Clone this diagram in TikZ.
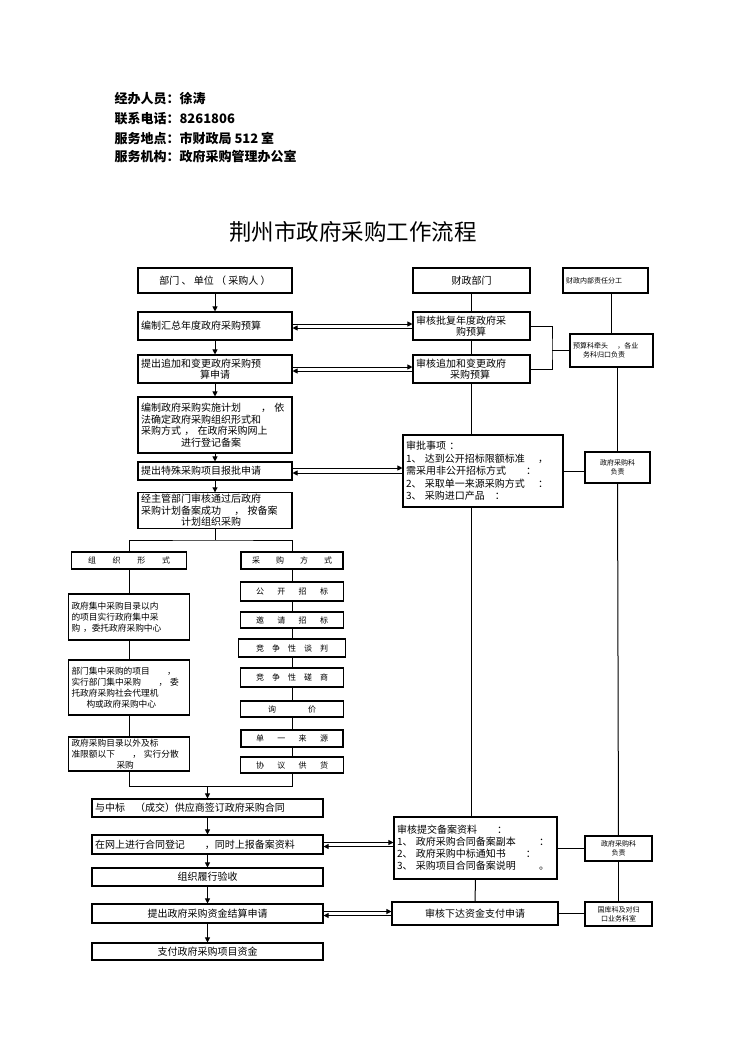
\documentclass[tikz,border=0pt]{standalone}
\usepackage{fontspec}
\setmainfont{Noto Sans CJK SC}
\usetikzlibrary{arrows.meta}
\newcommand{\spread}[2]{\makebox[#1][s]{#2}}

\tikzset{
  box/.style={draw, line width=1.1pt, inner xsep=3pt, inner ysep=1.5pt, font=\fontsize{10}{11.5}\selectfont},
  lbox/.style={box, align=left},
  smallbox/.style={box, align=center, font=\fontsize{7}{9}\selectfont},
  waybox/.style={box, font=\fontsize{8}{10}\selectfont},
  orgbox/.style={lbox, text width=115pt, font=\fontsize{8.7}{11}\selectfont},
  info/.style={anchor=west, font=\fontsize{13}{15}\selectfont\bfseries},
  link/.style={line width=1pt},
  flow/.style={link, -{Triangle[length=5pt,width=5pt]}},
}

\begin{document}
\begin{tikzpicture}[x=1pt,y=-1pt]
\path[use as bounding box, fill=white] (0,0) rectangle (744,1053);

\node[info] (jingban) at (111,99) {经办人员：徐涛};
\node[info] (dianhua) at (111,119) {联系电话：8261806};
\node[info] (didian) at (111,138) {服务地点：市财政局 512 室};
\node[info] (jigou) at (111,157) {服务机构：政府采购管理办公室};
\node[font=\fontsize{22.5}{26}\selectfont] (title) at (353,232) {荆州市政府采购工作流程};

% purchaser side
\node[box, minimum width=154pt, minimum height=25pt] (bumen) at (215,280.5) {部门\ 、\ 单位\ （\ 采购人\ ）};
\node[lbox, text width=148pt, minimum height=28pt] (bianzhi) at (215,326) {编制汇总年度政府采购预算};
\node[lbox, text width=148pt, minimum height=28pt] (zhuijia) at (215,369) {提出追加和变更政府采购预\\\hspace*{59pt}算申请};
\node[lbox, text width=148pt, minimum height=56pt] (jihua) at (215,425) {编制政府采购实施计划\qquad，\ 依\\法确定政府采购组织形式和\\采购方式\ ，\ 在政府采购网上\\\hspace*{40pt}进行登记备案};
\node[lbox, text width=148pt, minimum height=18pt] (teshu) at (215,471) {提出特殊采购项目报批申请};
\node[lbox, text width=148pt, minimum height=35pt] (jingzhu) at (215,510.5) {经主管部门审核通过后政府\\采购计划备案成功\quad\ ，\ 按备案\\\hspace*{40pt}计划组织采购};

% finance side
\node[box, minimum width=117pt, minimum height=25pt] (caizheng) at (471.5,280.5) {财政部门};
\node[lbox, text width=111pt, minimum height=28pt] (pifu) at (471.5,326) {审核批复年度政府采\\\hspace*{40pt}购预算};
\node[lbox, text width=111pt, minimum height=28pt] (shenzhui) at (471.5,369) {审核追加和变更政府\\\hspace*{34pt}采购预算};
\node[lbox, text width=154pt, minimum height=72pt, font=\fontsize{10}{12.5}\selectfont] (shenpi) at (483,471) {审批事项\ ：\\1、\ 达到公开招标限额标准\quad\ ，\\需采用非公开招标方式\qquad：\\2、\ 采取单一来源采购方式\quad\ ：\\3、\ 采购进口产品\quad：};
\node[lbox, text width=157pt, minimum height=62pt, font=\fontsize{10}{12}\selectfont] (beian) at (475.5,848) {审核提交备案资料\qquad：\\1、\ 政府采购合同备案副本\qquad\ ：\\2、\ 政府采购中标通知书\qquad：\\3、\ 采购项目合同备案说明\qquad\ 。};
\node[box, minimum width=166pt, minimum height=23pt] (xiada) at (475,913.5) {审核下达资金支付申请};

\node[smallbox, align=left, text width=79pt, minimum height=25pt] (fengong) at (605.5,280.5) {财政内部责任分工};
\node[smallbox, align=left, text width=77pt, minimum height=33pt] (yusuan) at (611.5,350.5) {预算科牵头\quad\ ，各业\\\hspace*{10pt}务科归口负责};
\node[smallbox, minimum width=65pt, minimum height=31pt] (caigouke) at (617.5,467.5) {政府采购科\\负责};
\node[smallbox, minimum width=67pt, minimum height=25pt] (caigoukeb) at (618.5,848.5) {政府采购科\\负责};
\node[smallbox, minimum width=67pt, minimum height=24pt] (guoku) at (618.5,914) {国库科及对归\\口业务科室};

% organisation forms
\node[waybox, minimum width=115pt, minimum height=17pt] (zuzhi) at (129,560.5) {\spread{82pt}{组\hfil 织\hfil 形\hfil 式}};
\node[orgbox, minimum height=46pt] (jizhong) at (129,617) {政府集中采购目录以内\\的项目实行政府集中采\\购\ ，委托政府采购中心};
\node[orgbox, minimum height=55pt] (bumenjz) at (129,687.5) {部门集中采购的项目\qquad，\\实行部门集中采购\qquad，\ 委\\托政府采购社会代理机\\\hspace*{15pt}构或政府采购中心};
\node[orgbox, minimum height=34pt] (fensan) at (129,754) {政府采购目录以外及标\\准限额以下\qquad，\ 实行分散\\\hspace*{45pt}采购};

% purchasing methods
\node[waybox, minimum width=102pt, minimum height=17pt] (fangshi) at (292,560.5) {\spread{80pt}{采\hfil 购\hfil 方\hfil 式}};
\node[waybox, minimum width=103pt, minimum height=19pt] (gongkai) at (292,591.5) {\spread{72pt}{公\hfil 开\hfil 招\hfil 标}};
\node[waybox, minimum width=103pt, minimum height=16pt] (yaoqing) at (292,620) {\spread{72pt}{邀\hfil 请\hfil 招\hfil 标}};
\node[waybox, minimum width=107pt, minimum height=18pt] (tanpan) at (292,648) {\spread{72pt}{竞\hfil 争\hfil 性\hfil 谈\hfil 判}};
\node[waybox, minimum width=103pt, minimum height=19pt] (cuoshang) at (292,677.5) {\spread{72pt}{竞\hfil 争\hfil 性\hfil 磋\hfil 商}};
\node[waybox, minimum width=103pt, minimum height=16pt] (xunjia) at (292,709) {\spread{48pt}{询\hfil 价}};
\node[waybox, minimum width=102pt, minimum height=17pt] (danyi) at (292,738.5) {\spread{72pt}{单\hfil 一\hfil 来\hfil 源}};
\node[waybox, minimum width=103pt, minimum height=16pt] (xieyi) at (292,765) {\spread{72pt}{协\hfil 议\hfil 供\hfil 货}};

% contract and payment
\node[lbox, text width=225pt, minimum height=18pt] (hetong) at (207.5,808) {与中标\quad（成交）供应商签订政府采购合同};
\node[lbox, text width=225pt, minimum height=19pt] (dengji) at (207.5,844.5) {在网上进行合同登记\qquad，同时上报备案资料};
\node[box, minimum width=231pt, minimum height=18pt] (yanshou) at (207.5,877) {组织履行验收};
\node[box, minimum width=231pt, minimum height=19pt] (jiesuan) at (207.5,913.5) {提出政府采购资金结算申请};
\node[box, minimum width=231pt, minimum height=17pt] (zhifu) at (207.5,951.5) {支付政府采购项目资金};

\coordinate (fork) at (215,540);
\coordinate (merge) at (207.5,786);
\coordinate (brk) at (552,350.5);

\draw[flow] (bumen) -- (bianzhi);
\draw[flow] (bianzhi) -- (zhuijia);
\draw[flow] (zhuijia) -- (jihua);
\draw[flow] (jihua) -- (teshu);
\draw[flow] (teshu) -- (jingzhu);
\draw[link] (jingzhu) -- (fork);
\draw[link] (zuzhi.north) |- (fork) -| (fangshi.north);

\draw[link] (zuzhi) -- (jizhong);
\draw[link] (jizhong) -- (bumenjz);
\draw[link] (bumenjz) -- (fensan);
\draw[link] (fangshi) -- (gongkai);
\draw[link] (gongkai) -- (yaoqing);
\draw[link] (yaoqing) -- (tanpan);
\draw[link] (tanpan) -- (cuoshang);
\draw[link] (cuoshang) -- (xunjia);
\draw[link] (xunjia) -- (danyi);
\draw[link] (danyi) -- (xieyi);
\draw[link] (fensan.south) |- (merge) -| (xieyi.south);
\draw[flow] (merge) -- (hetong);

\draw[flow] (hetong) -- (dengji);
\draw[flow] (dengji) -- (yanshou);
\draw[flow] (yanshou) -- (jiesuan);
\draw[flow] (jiesuan) -- (zhifu);

\draw[link] (caizheng) -- (pifu);
\draw[link] (pifu) -- (shenzhui);
\draw[link] (shenzhui.south) -- (shenzhui.south |- shenpi.north);
\draw[link] (shenzhui.south |- shenpi.south) -- (shenzhui.south |- beian.north);
\draw[link] (beian.south) -- (xiada.north);

\draw[link] (pifu.east) -| (brk) |- (shenzhui.east);
\draw[link] (brk) -- (yusuan.west);
\draw[link] (shenpi.east) -- (shenpi.east -| caigouke.west);
\draw[link] (beian.east) -- (beian.east -| caigoukeb.west);
\draw[link] (xiada.east) -- (xiada.east -| guoku.west);
\draw[link] (fengong.south -| yusuan) -- (yusuan.north);
\draw[link] (yusuan.south -| caigouke) -- (caigouke.north);
\draw[link] (caigouke) -- (caigoukeb);
\draw[link] (caigoukeb) -- (guoku);

\draw[flow] ([yshift=2pt]bianzhi.east) -- ([yshift=2pt]bianzhi.east -| pifu.west);
\draw[flow] ([yshift=-2pt]bianzhi.east -| pifu.west) -- ([yshift=-2pt]bianzhi.east);
\draw[flow] ([yshift=2pt]zhuijia.east) -- ([yshift=2pt]zhuijia.east -| shenzhui.west);
\draw[flow] ([yshift=-2pt]zhuijia.east -| shenzhui.west) -- ([yshift=-2pt]zhuijia.east);
\draw[flow] ([yshift=3pt]teshu.east) -- ([yshift=3pt]teshu.east -| shenpi.west);
\draw[flow] ([yshift=-2pt]teshu.east -| shenpi.west) -- ([yshift=-2pt]teshu.east);
\draw[flow] ([yshift=2pt]dengji.east) -- ([yshift=2pt]dengji.east -| beian.west);
\draw[flow] ([yshift=-2pt]dengji.east -| beian.west) -- ([yshift=-2pt]dengji.east);
\draw[flow] ([yshift=2pt]jiesuan.east) -- ([yshift=2pt]jiesuan.east -| xiada.west);
\draw[flow] ([yshift=-2pt]jiesuan.east -| xiada.west) -- ([yshift=-2pt]jiesuan.east);
\end{tikzpicture}
\end{document}
